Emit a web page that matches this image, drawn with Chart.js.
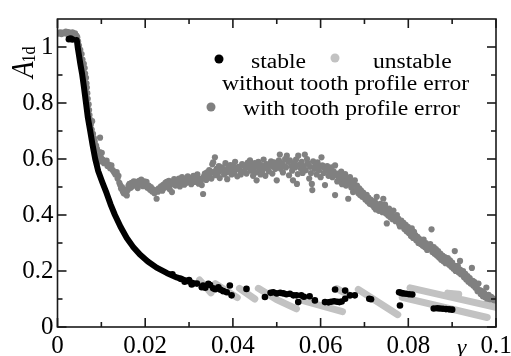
<!DOCTYPE html>
<html>
<head>
<meta charset="utf-8">
<script src="https://cdn.jsdelivr.net/npm/chart.js@4.4.1/dist/chart.umd.min.js"></script>
<style>
  html, body { margin: 0; padding: 0; background: #fff; }
  #wrap { width: 511px; height: 356px; }
</style>
</head>
<body>
<div id="wrap"><canvas id="grafico" width="511" height="356"></canvas></div>
<script>
// ============================================
// DATOS
// ============================================

const xTicks = [0, 0.02, 0.04, 0.06, 0.08, 0.1];
const yTicks = [0, 0.2, 0.4, 0.6, 0.8, 1];
const xMinor = [0.01, 0.03, 0.05, 0.07, 0.09];
const yMinor = [0.1, 0.3, 0.5, 0.7, 0.9];

// rama estable densa (se ve como una curva continua)
const stableCurve = [
    [0.0044, 1.025], [0.0046, 1.0], [0.0049, 0.97], [0.0052, 0.94], [0.0056, 0.905],
    [0.0060, 0.86], [0.0065, 0.80], [0.0069, 0.75], [0.0074, 0.705], [0.0080, 0.65],
    [0.0086, 0.60], [0.0093, 0.556], [0.0102, 0.518], [0.0112, 0.478], [0.0121, 0.438],
    [0.0131, 0.40], [0.0144, 0.357], [0.0158, 0.318], [0.0172, 0.287], [0.0188, 0.259],
    [0.0206, 0.234], [0.0226, 0.212], [0.0249, 0.193], [0.0272, 0.177], [0.0295, 0.165],
    [0.0312, 0.156]
];

// puntos estables sueltos
const stableDots = [
    [0.0026, 1.028], [0.0030, 1.030], [0.0034, 1.027],
    [0.0262, 0.188], [0.0281, 0.172], [0.0290, 0.162], [0.0300, 0.168], [0.0306, 0.152],
    [0.0318, 0.155], [0.0329, 0.142], [0.0332, 0.148], [0.0337, 0.140], [0.0344, 0.154],
    [0.0348, 0.150], [0.0355, 0.138], [0.0360, 0.135], [0.0367, 0.142], [0.0372, 0.133],
    [0.0378, 0.128], [0.0386, 0.124], [0.0393, 0.148], [0.0397, 0.113], [0.0431, 0.136],
    [0.0473, 0.107], [0.0486, 0.122], [0.0492, 0.124], [0.0500, 0.120], [0.0508, 0.122],
    [0.0515, 0.120], [0.0522, 0.117], [0.0530, 0.119], [0.0538, 0.113], [0.0545, 0.113],
    [0.0549, 0.089], [0.0556, 0.113], [0.0562, 0.108], [0.0575, 0.110], [0.0587, 0.095],
    [0.0610, 0.089], [0.0618, 0.088], [0.0624, 0.090], [0.0631, 0.092], [0.0633, 0.134],
    [0.0638, 0.090], [0.0643, 0.089], [0.0648, 0.091], [0.0656, 0.101], [0.0656, 0.130],
    [0.0667, 0.113], [0.0678, 0.113], [0.0711, 0.101], [0.0715, 0.099], [0.0779, 0.124],
    [0.0783, 0.122], [0.0788, 0.120], [0.0795, 0.119], [0.0802, 0.117], [0.0809, 0.116],
    [0.0781, 0.077], [0.0858, 0.066], [0.0866, 0.067], [0.0872, 0.066], [0.0879, 0.065],
    [0.0886, 0.064], [0.0893, 0.063], [0.0900, 0.062]
];

// tramos inestables (cada uno es una franja gruesa)
const unstableStreaks = [
    [[0.0324, 0.168], [0.0350, 0.122]],
    [[0.0360, 0.155], [0.0410, 0.105]],
    [[0.0415, 0.138], [0.0450, 0.100]],
    [[0.0458, 0.138], [0.0500, 0.098], [0.0545, 0.065]],
    [[0.0558, 0.095], [0.0650, 0.055]],
    [[0.0637, 0.137], [0.0667, 0.112]],
    [[0.0686, 0.134], [0.0776, 0.044]],
    [[0.0786, 0.106], [0.0980, 0.034]],
    [[0.0804, 0.140], [0.1000, 0.070]],
    [[0.0890, 0.121], [0.0915, 0.117]]
];

// con error de perfil del diente
const toothError = [
    [0.0002, 1.048], [0.0006, 1.052], [0.0009, 1.046], [0.0012, 1.051], [0.0015, 1.049],
    [0.0019, 1.055], [0.0022, 1.047], [0.0025, 1.053], [0.0028, 1.050], [0.0031, 1.044],
    [0.0034, 1.052], [0.0037, 1.047], [0.0040, 1.049], [0.0043, 1.041], [0.0045, 1.035],
    [0.0047, 1.020], [0.0049, 1.005], [0.0052, 0.990], [0.0055, 0.975], [0.0057, 0.955],
    [0.0060, 0.940], [0.0062, 0.925], [0.0063, 0.905], [0.0065, 0.890], [0.0066, 0.870],
    [0.0067, 0.855], [0.0068, 0.835], [0.0069, 0.815], [0.0071, 0.795], [0.0072, 0.775],
    [0.0073, 0.757], [0.0075, 0.740], [0.0076, 0.722], [0.0078, 0.705], [0.0079, 0.735],
    [0.0081, 0.690], [0.0083, 0.675], [0.0085, 0.662], [0.0088, 0.648], [0.0090, 0.636],
    [0.0097, 0.676], [0.0092, 0.612], [0.0094, 0.590], [0.0096, 0.625], [0.0099, 0.605],
    [0.0101, 0.622], [0.0103, 0.598], [0.0106, 0.585], [0.0109, 0.590], [0.0112, 0.594],
    [0.0114, 0.575], [0.0117, 0.580], [0.0120, 0.567], [0.0123, 0.577], [0.0126, 0.560],
    [0.0129, 0.553], [0.0132, 0.545], [0.0135, 0.553], [0.0137, 0.530], [0.0139, 0.540],
    [0.0141, 0.515], [0.0143, 0.507], [0.0145, 0.495], [0.0147, 0.500], [0.0149, 0.485],
    [0.0151, 0.478], [0.0153, 0.492], [0.0155, 0.475], [0.0158, 0.470], [0.0160, 0.488],
    [0.0162, 0.505], [0.0164, 0.511], [0.0167, 0.497], [0.0169, 0.515], [0.0171, 0.503],
    [0.0174, 0.520], [0.0176, 0.508], [0.0178, 0.518], [0.0181, 0.512], [0.0183, 0.496],
    [0.0186, 0.522], [0.0188, 0.510], [0.0191, 0.526], [0.0193, 0.515], [0.0195, 0.503],
    [0.0198, 0.520], [0.0200, 0.510], [0.0203, 0.518], [0.0205, 0.497], [0.0208, 0.505],
    [0.0211, 0.490], [0.0213, 0.500], [0.0216, 0.484], [0.0218, 0.492], [0.0221, 0.478],
    [0.0224, 0.488], [0.0226, 0.458], [0.0229, 0.483], [0.0231, 0.495], [0.0234, 0.493],
    [0.0236, 0.502], [0.0239, 0.487], [0.0241, 0.508], [0.0244, 0.497], [0.0246, 0.515],
    [0.0249, 0.518], [0.0251, 0.505], [0.0254, 0.522], [0.0256, 0.492], [0.0259, 0.510],
    [0.0261, 0.482], [0.0264, 0.515], [0.0266, 0.528], [0.0269, 0.505], [0.0272, 0.524],
    [0.0274, 0.512], [0.0277, 0.530], [0.0279, 0.502], [0.0282, 0.518], [0.0284, 0.535],
    [0.0287, 0.522], [0.0289, 0.508], [0.0292, 0.527], [0.0294, 0.515], [0.0297, 0.538],
    [0.0299, 0.520], [0.0302, 0.532], [0.0305, 0.510], [0.0307, 0.525], [0.0310, 0.540],
    [0.0312, 0.518], [0.0314, 0.535], [0.0317, 0.528], [0.0319, 0.545], [0.0322, 0.512],
    [0.0324, 0.530], [0.0327, 0.522], [0.0329, 0.507], [0.0332, 0.475], [0.0334, 0.538],
    [0.0336, 0.548], [0.0339, 0.525], [0.0341, 0.552], [0.0344, 0.535], [0.0346, 0.560],
    [0.0348, 0.546], [0.0351, 0.530], [0.0353, 0.581], [0.0355, 0.588], [0.0357, 0.555],
    [0.0359, 0.606], [0.0361, 0.542], [0.0363, 0.565], [0.0366, 0.550], [0.0368, 0.575],
    [0.0370, 0.532], [0.0373, 0.558], [0.0375, 0.570], [0.0378, 0.563], [0.0380, 0.545],
    [0.0383, 0.585], [0.0385, 0.552], [0.0387, 0.528], [0.0389, 0.568], [0.0392, 0.555],
    [0.0394, 0.578], [0.0397, 0.545], [0.0399, 0.562], [0.0400, 0.577], [0.0403, 0.550],
    [0.0405, 0.590], [0.0408, 0.565], [0.0410, 0.538], [0.0413, 0.572], [0.0416, 0.560],
    [0.0418, 0.545], [0.0421, 0.582], [0.0424, 0.577], [0.0426, 0.555], [0.0429, 0.568],
    [0.0431, 0.548], [0.0434, 0.587], [0.0436, 0.570], [0.0439, 0.595], [0.0441, 0.558],
    [0.0443, 0.578], [0.0446, 0.540], [0.0448, 0.565], [0.0450, 0.585], [0.0452, 0.552],
    [0.0454, 0.524], [0.0456, 0.575], [0.0458, 0.590], [0.0461, 0.562], [0.0463, 0.545],
    [0.0465, 0.578], [0.0467, 0.555], [0.0470, 0.598], [0.0472, 0.568], [0.0474, 0.540],
    [0.0477, 0.582], [0.0480, 0.570], [0.0482, 0.556], [0.0485, 0.580], [0.0487, 0.592],
    [0.0490, 0.548], [0.0492, 0.572], [0.0494, 0.588], [0.0497, 0.565], [0.0500, 0.524],
    [0.0502, 0.578], [0.0505, 0.595], [0.0507, 0.616], [0.0509, 0.565], [0.0512, 0.585],
    [0.0514, 0.552], [0.0517, 0.575], [0.0519, 0.600], [0.0521, 0.570], [0.0523, 0.612],
    [0.0526, 0.590], [0.0528, 0.542], [0.0530, 0.595], [0.0533, 0.575], [0.0535, 0.558],
    [0.0537, 0.524], [0.0540, 0.585], [0.0542, 0.570], [0.0544, 0.598], [0.0546, 0.511],
    [0.0548, 0.546], [0.0549, 0.612], [0.0552, 0.580], [0.0555, 0.565], [0.0557, 0.590],
    [0.0559, 0.550], [0.0562, 0.575], [0.0564, 0.616], [0.0566, 0.560], [0.0569, 0.600],
    [0.0571, 0.585], [0.0574, 0.530], [0.0576, 0.572], [0.0578, 0.550], [0.0580, 0.511],
    [0.0581, 0.489], [0.0583, 0.592], [0.0586, 0.565], [0.0588, 0.578], [0.0591, 0.545],
    [0.0593, 0.588], [0.0596, 0.560], [0.0598, 0.572], [0.0600, 0.535], [0.0602, 0.606],
    [0.0604, 0.577], [0.0607, 0.550], [0.0609, 0.568], [0.0610, 0.507], [0.0613, 0.558],
    [0.0615, 0.575], [0.0618, 0.540], [0.0620, 0.562], [0.0622, 0.548], [0.0625, 0.570],
    [0.0627, 0.535], [0.0630, 0.555], [0.0633, 0.577], [0.0633, 0.471], [0.0635, 0.542],
    [0.0638, 0.520], [0.0640, 0.548], [0.0642, 0.530], [0.0644, 0.528], [0.0647, 0.555],
    [0.0649, 0.510], [0.0651, 0.538], [0.0654, 0.520], [0.0656, 0.546], [0.0658, 0.505],
    [0.0661, 0.530], [0.0663, 0.458], [0.0665, 0.515], [0.0667, 0.535], [0.0670, 0.498],
    [0.0672, 0.520], [0.0674, 0.482], [0.0676, 0.508], [0.0678, 0.524], [0.0681, 0.490],
    [0.0683, 0.505], [0.0686, 0.478], [0.0688, 0.495], [0.0690, 0.471], [0.0692, 0.488],
    [0.0695, 0.465], [0.0697, 0.480], [0.0700, 0.468], [0.0702, 0.455], [0.0705, 0.472],
    [0.0707, 0.448], [0.0709, 0.462], [0.0712, 0.440], [0.0714, 0.455], [0.0717, 0.437],
    [0.0719, 0.450], [0.0722, 0.428], [0.0724, 0.446], [0.0726, 0.420], [0.0728, 0.465],
    [0.0731, 0.432], [0.0733, 0.415], [0.0736, 0.440], [0.0738, 0.425], [0.0741, 0.410],
    [0.0743, 0.458], [0.0745, 0.430], [0.0747, 0.437], [0.0749, 0.405], [0.0751, 0.370],
    [0.0751, 0.416], [0.0754, 0.398], [0.0756, 0.423], [0.0759, 0.392], [0.0761, 0.410],
    [0.0764, 0.385], [0.0766, 0.416], [0.0768, 0.395], [0.0771, 0.378], [0.0774, 0.400],
    [0.0777, 0.387], [0.0779, 0.368], [0.0781, 0.359], [0.0784, 0.380], [0.0786, 0.362],
    [0.0789, 0.372], [0.0791, 0.350], [0.0794, 0.365], [0.0796, 0.342], [0.0799, 0.358],
    [0.0801, 0.336], [0.0804, 0.349], [0.0806, 0.325], [0.0808, 0.331], [0.0808, 0.352],
    [0.0811, 0.318], [0.0813, 0.340], [0.0816, 0.328], [0.0818, 0.310], [0.0821, 0.322],
    [0.0823, 0.300], [0.0825, 0.315], [0.0828, 0.296], [0.0830, 0.306], [0.0833, 0.290],
    [0.0835, 0.312], [0.0838, 0.285], [0.0840, 0.300], [0.0843, 0.275], [0.0845, 0.292],
    [0.0848, 0.282], [0.0850, 0.296], [0.0853, 0.349], [0.0855, 0.268], [0.0858, 0.285],
    [0.0860, 0.262], [0.0863, 0.278], [0.0865, 0.255], [0.0868, 0.271], [0.0870, 0.248],
    [0.0873, 0.262], [0.0875, 0.240], [0.0878, 0.255], [0.0880, 0.235], [0.0883, 0.250],
    [0.0885, 0.228], [0.0888, 0.243], [0.0890, 0.246], [0.0893, 0.222], [0.0895, 0.238],
    [0.0898, 0.215], [0.0900, 0.230], [0.0903, 0.208], [0.0906, 0.271], [0.0906, 0.218],
    [0.0908, 0.200], [0.0911, 0.215], [0.0913, 0.218], [0.0915, 0.195], [0.0918, 0.236],
    [0.0918, 0.205], [0.0920, 0.188], [0.0922, 0.194], [0.0925, 0.200], [0.0927, 0.178],
    [0.0930, 0.190], [0.0932, 0.170], [0.0935, 0.182], [0.0937, 0.162], [0.0940, 0.175],
    [0.0942, 0.155], [0.0945, 0.211], [0.0947, 0.165], [0.0948, 0.148], [0.0951, 0.160],
    [0.0953, 0.140], [0.0956, 0.141], [0.0958, 0.128], [0.0960, 0.155], [0.0963, 0.132],
    [0.0965, 0.118], [0.0968, 0.128], [0.0970, 0.110], [0.0973, 0.122], [0.0975, 0.106],
    [0.0978, 0.141], [0.0980, 0.088], [0.0983, 0.115], [0.0986, 0.098], [0.0989, 0.108],
    [0.0993, 0.102], [0.0996, 0.092]
];

// ============================================
// ESTILOS
// ============================================

const FUENTE = '"Liberation Serif"';
const ESTIRAR = 1.18;   // el texto de la figura es algo ancho
const COLOR_ESTABLE = '#000000';
const COLOR_INESTABLE = '#c2c2c2';
const COLOR_ERROR = '#808080';

const toXY = p => ({ x: p[0], y: p[1] });

// los tramos inestables van en una sola serie, cortados con un y nulo
const unstableData = [];
unstableStreaks.forEach(tramo => {
    tramo.forEach(p => unstableData.push(toXY(p)));
    unstableData.push({ x: tramo[tramo.length - 1][0], y: null });
});

function formatoTick(v) {
    return String(Number(v.toFixed(3)));
}

// texto ensanchado horizontalmente
function textoAncho(ctx, txt, x, y) {
    ctx.save();
    ctx.translate(x, y);
    ctx.scale(ESTIRAR, 1);
    ctx.fillText(txt, 0, 0);
    ctx.restore();
}

function punto(ctx, x, y, r, color) {
    ctx.beginPath();
    ctx.arc(x, y, r, 0, Math.PI * 2);
    ctx.fillStyle = color;
    ctx.fill();
}

// marco con ticks hacia adentro en los cuatro lados, leyenda y títulos
const marcoPlugin = {
    id: 'marco',
    afterDraw(chart) {
        const { ctx, chartArea: a, scales } = chart;
        const sx = scales.x, sy = scales.y;

        ctx.save();
        ctx.strokeStyle = '#1a1a1a';
        ctx.lineWidth = 1.6;
        ctx.strokeRect(a.left, a.top, a.right - a.left, a.bottom - a.top);

        const linea = (x1, y1, x2, y2) => {
            ctx.beginPath();
            ctx.moveTo(x1, y1);
            ctx.lineTo(x2, y2);
            ctx.stroke();
        };
        const ticksX = (vals, len) => vals.forEach(v => {
            const px = sx.getPixelForValue(v);
            linea(px, a.bottom, px, a.bottom - len);
            linea(px, a.top, px, a.top + len);
        });
        const ticksY = (vals, len) => vals.forEach(v => {
            const py = sy.getPixelForValue(v);
            linea(a.left, py, a.left + len, py);
            linea(a.right, py, a.right - len, py);
        });
        ticksX(xTicks, 9);
        ticksX(xMinor, 5);
        ticksY(yTicks, 9);
        ticksY(yMinor, 5);

        // leyenda
        ctx.textBaseline = 'alphabetic';
        ctx.font = '20px ' + FUENTE;
        punto(ctx, 219, 59, 4.5, COLOR_ESTABLE);
        ctx.fillStyle = '#000';
        textoAncho(ctx, 'stable', 251, 68);
        punto(ctx, 335, 58, 4.5, COLOR_INESTABLE);
        ctx.fillStyle = '#000';
        textoAncho(ctx, 'unstable', 373, 68);
        textoAncho(ctx, 'without tooth profile error', 222, 90);
        punto(ctx, 211, 107, 4.5, COLOR_ERROR);
        ctx.fillStyle = '#000';
        textoAncho(ctx, 'with tooth profile error', 243, 115);

        // título eje y: A_1d girado
        ctx.save();
        ctx.translate(33, 78);
        ctx.rotate(-Math.PI / 2);
        ctx.scale(1, ESTIRAR);
        ctx.font = 'italic 27px ' + FUENTE;
        ctx.fillText('A', 0, 0);
        const anchoA = ctx.measureText('A').width;
        ctx.font = '16px ' + FUENTE;
        ctx.fillText('1d', anchoA - 1, 2);
        ctx.restore();

        // título eje x
        ctx.font = 'italic 20px ' + FUENTE;
        textoAncho(ctx, 'γ', 457, 354);

        ctx.restore();
    }
};

// ============================================
// GRÁFICO
// ============================================

function crearGrafico() {
    const ctx = document.getElementById('grafico');

    new Chart(ctx, {
        type: 'scatter',
        data: {
            datasets: [
                {
                    label: 'stable',
                    data: stableCurve.map(toXY),
                    showLine: true,
                    borderColor: COLOR_ESTABLE,
                    borderWidth: 6,
                    borderCapStyle: 'round',
                    borderJoinStyle: 'round',
                    pointRadius: 0,
                    tension: 0
                },
                {
                    label: 'stable',
                    data: stableDots.map(toXY),
                    backgroundColor: COLOR_ESTABLE,
                    borderWidth: 0,
                    pointRadius: 3.3
                },
                {
                    label: 'unstable',
                    data: unstableData,
                    showLine: true,
                    spanGaps: false,
                    borderColor: COLOR_INESTABLE,
                    borderWidth: 7,
                    borderCapStyle: 'round',
                    pointRadius: 0,
                    tension: 0
                },
                {
                    label: 'with tooth profile error',
                    data: toothError.map(toXY),
                    backgroundColor: COLOR_ERROR,
                    borderWidth: 0,
                    pointRadius: 3.1
                }
            ]
        },
        options: {
            responsive: false,
            animation: false,
            devicePixelRatio: 1,
            layout: { padding: { top: 15, right: 15, left: 0, bottom: 0 } },
            plugins: {
                legend: { display: false },
                tooltip: { enabled: false }
            },
            scales: {
                x: {
                    type: 'linear',
                    min: 0,
                    max: 0.1,
                    grid: { display: false, drawTicks: false },
                    border: { display: false },
                    ticks: {
                        color: '#000',
                        padding: 4,
                        maxRotation: 0,
                        font: { family: FUENTE, size: 25 },
                        callback: v => formatoTick(v)
                    },
                    afterBuildTicks: s => { s.ticks = xTicks.map(v => ({ value: v })); },
                    // el "0.1" puede sobresalir: no reservar hueco extra a los lados
                    afterFit: s => {
                        s.height = 29;
                        s.paddingLeft = 0;
                        s.paddingRight = 0;
                    }
                },
                y: {
                    type: 'linear',
                    min: 0,
                    max: 1.1,
                    grid: { display: false, drawTicks: false },
                    border: { display: false },
                    ticks: {
                        color: '#000',
                        padding: 4,
                        font: { family: FUENTE, size: 25 },
                        callback: v => formatoTick(v)
                    },
                    afterBuildTicks: s => { s.ticks = yTicks.map(v => ({ value: v })); },
                    afterFit: s => { s.width = 57.5; }
                }
            }
        },
        plugins: [marcoPlugin]
    });
}

// esperar a que la fuente serif esté lista antes de dibujar
Promise.all([
    document.fonts.load('24px "Liberation Serif"'),
    document.fonts.load('italic 24px "Liberation Serif"')
]).then(crearGrafico, crearGrafico);
</script>
</body>
</html>
